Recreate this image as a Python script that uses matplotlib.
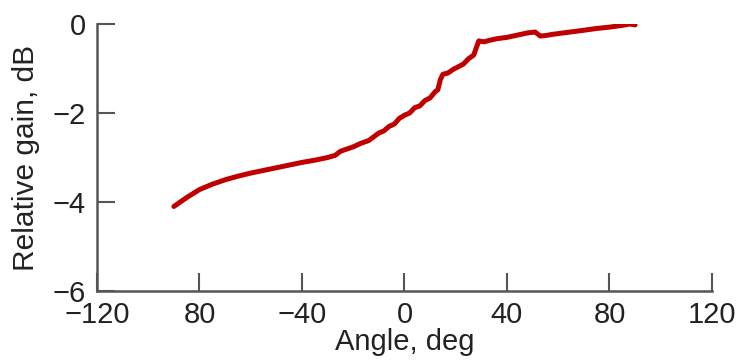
import matplotlib
matplotlib.use("Agg")
import matplotlib.pyplot as plt

angle = [-90, -85, -80, -75, -70, -65, -60, -55, -50, -45, -40, -35, -30, -27, -25,
         -20, -17, -14, -10, -8, -6, -4, -2, 0, 2, 4, 6, 8, 10, 12, 13, 14, 15, 17,
         19, 21, 23, 25, 27, 29, 31, 33, 36, 40, 44, 48, 51, 53, 55, 58, 62, 66,
         70, 75, 80, 85, 88, 90]
gain = [-4.10, -3.90, -3.72, -3.60, -3.50, -3.42, -3.35, -3.29, -3.23, -3.17, -3.11,
        -3.06, -3.00, -2.95, -2.86, -2.76, -2.68, -2.62, -2.45, -2.40, -2.30, -2.25,
        -2.12, -2.05, -2.00, -1.88, -1.84, -1.72, -1.66, -1.52, -1.48, -1.25, -1.13,
        -1.10, -1.02, -0.96, -0.90, -0.78, -0.70, -0.38, -0.40, -0.37, -0.33, -0.30,
        -0.25, -0.20, -0.18, -0.27, -0.26, -0.23, -0.20, -0.17, -0.14, -0.10, -0.07,
        -0.03, 0.00, -0.02]

xticks = [-120, -80, -40, 0, 40, 80, 120]
xticklabels = ["\u2212120", "80", "\u221240", "0", "40", "80", "120"]
yticks = [0, -2, -4, -6]
yticklabels = ["0", "\u22122", "\u22124", "\u22126"]

plt.rcParams["font.family"] = ["Liberation Sans", "DejaVu Sans"]
txt = "#222222"
spine_c = "#555555"

fig = plt.figure(figsize=(7.37, 3.64), dpi=100)
ax = fig.add_axes([0.1316, 0.2005, 0.8344, 0.7335])
ax.plot(angle, gain, color="#c00000", lw=3.6, solid_capstyle="round", solid_joinstyle="round")

ax.set_xlim(-120, 120)
ax.set_ylim(-6, 0)
ax.set_xticks(xticks)
ax.set_xticklabels(xticklabels)
ax.set_yticks(yticks)
ax.set_yticklabels(yticklabels)

for s in ["top", "right"]:
    ax.spines[s].set_visible(False)
for s in ["left", "bottom"]:
    ax.spines[s].set_color(spine_c)
    ax.spines[s].set_linewidth(1.8)

ax.tick_params(axis="both", direction="in", length=13, width=1.5, color=spine_c,
               labelsize=21, labelcolor=txt)
ax.tick_params(axis="x", pad=7)
ax.tick_params(axis="y", pad=8)

ax.set_xlabel("Angle, deg", fontsize=21, color=txt, labelpad=-0.5)
ax.set_ylabel("Relative gain, dB", fontsize=21.5, color=txt, labelpad=9)

fig.savefig("out.png", dpi=100, facecolor="white")
